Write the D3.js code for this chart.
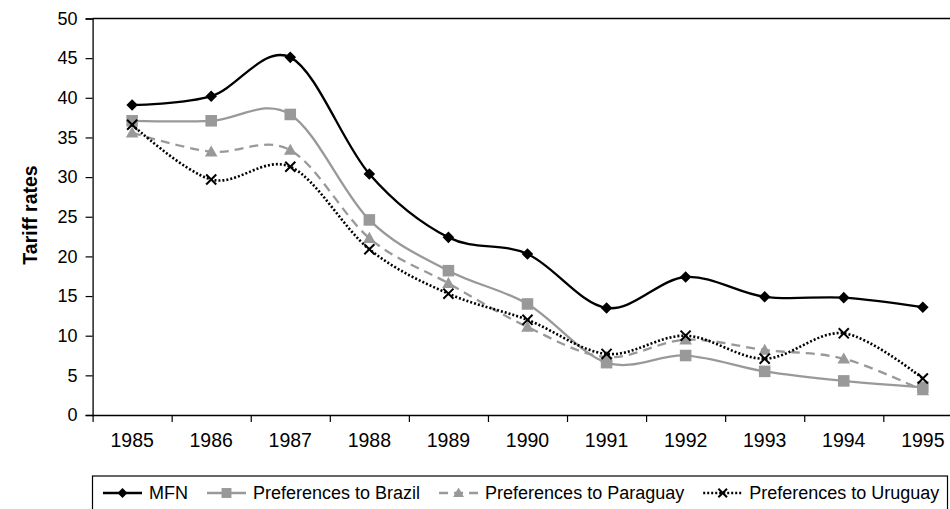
<!DOCTYPE html>
<html>
<head>
<meta charset="utf-8">
<script src="https://cdn.jsdelivr.net/npm/d3@7"></script>
<style>
  html, body { margin: 0; padding: 0; background: #fff; }
  svg { display: block; font-family: "Liberation Sans", Arial, sans-serif; }
</style>
</head>
<body>
<svg id="chart" width="950" height="509"></svg>
<script>
const years = ["1985","1986","1987","1988","1989","1990","1991","1992","1993","1994","1995"];
const mfn      = [39.1, 40.2, 45.1, 30.4, 22.4, 20.3, 13.5, 17.4, 14.9, 14.8, 13.6];
const brazil   = [37.1, 37.1, 37.9, 24.6, 18.2, 14.0, 6.6, 7.5, 5.5, 4.3, 3.5];
const paraguay = [35.6, 33.2, 33.4, 22.3, 16.6, 11.1, 7.3, 9.5, 8.2, 7.1, 3.1];
const uruguay  = [36.6, 29.7, 31.3, 20.9, 15.3, 12.0, 7.7, 10.0, 7.1, 10.3, 4.6];
const yTicks   = [0, 5, 10, 15, 20, 25, 30, 35, 40, 45, 50];
const seriesNames = ["MFN", "Preferences to Brazil", "Preferences to Paraguay", "Preferences to Uruguay"];

(function () {
const GRAY = "#999999";
const styles = [
  { color: "#000", dash: null, width: 2.3, marker: "diamond" },
  { color: GRAY, dash: null, width: 2.3, marker: "square" },
  { color: GRAY, dash: "9,6", width: 2.3, marker: "triangle" },
  { color: "#000", dash: "2,2", width: 2.6, marker: "x" }
];
const seriesData = [mfn, brazil, paraguay, uruguay];

const svg = d3.select("#chart");
const pLeft = 92.6, catW = 79.07;
const pRight = pLeft + catW * years.length;
const pTop = 18.5, pBottom = 415;

const x = d3.scaleBand().domain(years).range([pLeft, pRight]).paddingInner(0).paddingOuter(0);
const xIdx = d3.scaleLinear().domain([0, years.length]).range([pLeft, pRight]);
const y = d3.scaleLinear().domain([0, 50]).range([pBottom, pTop]);

// top frame line
svg.append("line").attr("x1", pLeft).attr("x2", 950).attr("y1", pTop).attr("y2", pTop)
  .attr("stroke", "#000").attr("stroke-width", 1.3);

// y axis
const yAxis = svg.append("g").attr("transform", `translate(${pLeft},0)`)
  .call(d3.axisLeft(y).tickValues(yTicks).tickSize(7).tickPadding(8));
yAxis.select(".domain").attr("stroke", "#000").attr("stroke-width", 1.3);
yAxis.selectAll(".tick line").attr("stroke", "#000").attr("stroke-width", 1.2);
yAxis.selectAll(".tick text").attr("font-size", 18).attr("fill", "#000")
  .attr("font-family", "Liberation Sans, Arial, sans-serif");

// x axis boundary ticks
const xAxisT = svg.append("g").attr("transform", `translate(0,${pBottom})`)
  .call(d3.axisBottom(xIdx).tickValues(d3.range(0, years.length + 1)).tickSize(7).tickFormat(""));
xAxisT.select(".domain").attr("stroke", "#000").attr("stroke-width", 1.3).attr("d", `M${pLeft},0.5H950`);
xAxisT.selectAll(".tick line").attr("stroke", "#000").attr("stroke-width", 1.2);

// x labels
const xAxisL = svg.append("g").attr("transform", `translate(0,${pBottom})`)
  .call(d3.axisBottom(x).tickSize(0).tickPadding(18));
xAxisL.select(".domain").remove();
xAxisL.selectAll(".tick text").attr("font-size", 19.5).attr("fill", "#000")
  .attr("font-family", "Liberation Sans, Arial, sans-serif");

// y axis title
svg.append("text").attr("transform", "translate(37,215) rotate(-90)")
  .attr("text-anchor", "middle").attr("font-size", 19.5).attr("font-weight", "bold")
  .text("Tariff rates");

// markers
function drawMarker(g, type, cx, cy, color, s) {
  if (type === "diamond") {
    const r = s * 0.55;
    g.append("path").attr("d", `M${cx},${cy - r}L${cx + r},${cy}L${cx},${cy + r}L${cx - r},${cy}Z`).attr("fill", color);
  } else if (type === "square") {
    const h = s * 0.55;
    g.append("rect").attr("x", cx - h).attr("y", cy - h).attr("width", 2 * h).attr("height", 2 * h).attr("fill", color);
  } else if (type === "triangle") {
    const h = s * 0.6;
    g.append("path").attr("d", `M${cx},${cy - h}L${cx + h},${cy + h * 0.75}L${cx - h},${cy + h * 0.75}Z`).attr("fill", color);
  } else if (type === "x") {
    const h = s * 0.48;
    g.append("path").attr("d", `M${cx - h},${cy - h}L${cx + h},${cy + h}M${cx + h},${cy - h}L${cx - h},${cy + h}`)
      .attr("stroke", color).attr("stroke-width", 2).attr("fill", "none");
  }
}

const line = d3.line()
  .x((d, i) => x(years[i]) + x.bandwidth() / 2)
  .y(d => y(d))
  .curve(d3.curveCardinal.tension(0));

seriesData.forEach((vals, si) => {
  const st = styles[si];
  const g = svg.append("g");
  g.append("path").datum(vals).attr("d", line).attr("fill", "none")
    .attr("stroke", st.color).attr("stroke-width", st.width)
    .attr("stroke-dasharray", st.dash);
  vals.forEach((v, i) => {
    drawMarker(g, st.marker, x(years[i]) + x.bandwidth() / 2, y(v), st.color, 10.5);
  });
});

// legend
const legend = svg.append("g");
legend.append("rect").attr("x", 92.5).attr("y", 476).attr("width", 855).attr("height", 45)
  .attr("fill", "#fff").attr("stroke", "#000").attr("stroke-width", 1.2);
let lx = 103;
const ly = 493;
seriesNames.forEach((name, si) => {
  const st = styles[si];
  legend.append("line").attr("x1", lx).attr("x2", lx + 39).attr("y1", ly).attr("y2", ly)
    .attr("stroke", st.color).attr("stroke-width", st.width).attr("stroke-dasharray", st.dash);
  drawMarker(legend, st.marker, lx + 19.5, ly, st.color, 9);
  const t = legend.append("text").attr("x", lx + 46).attr("y", ly).attr("dy", "0.35em")
    .attr("font-size", 18).attr("fill", "#000").text(name);
  lx = lx + 46 + t.node().getComputedTextLength() + 19;
});
})();
</script>
</body>
</html>
